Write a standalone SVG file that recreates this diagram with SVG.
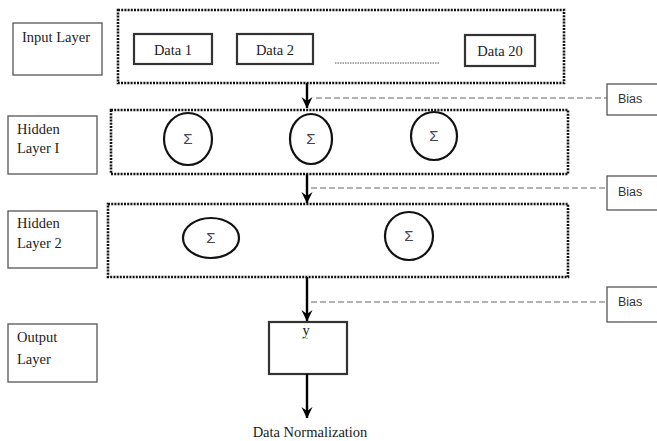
<svg xmlns="http://www.w3.org/2000/svg" width="657" height="441" viewBox="0 0 657 441">
<style>
.lbl{fill:#fff;stroke:#555;stroke-width:1.3}
.dot{fill:none;stroke:#111;stroke-width:2.6;stroke-dasharray:2 1.2}
.data{fill:#fff;stroke:#333;stroke-width:2.2}
.neu{fill:#fff;stroke:#111;stroke-width:2.2}
.t{font-family:"Liberation Serif",serif;font-size:14.5px;fill:#222}
.sig{font-family:"Liberation Sans",sans-serif;font-size:15px;fill:#445;text-anchor:middle}
.bias{font-family:"Liberation Sans",sans-serif;font-size:12.5px;fill:#333}
.dash{stroke:#666;stroke-width:1.2;stroke-dasharray:6 3;fill:none}
.arr{stroke:#000;stroke-width:2.4;fill:none;marker-end:url(#ah)}
</style>
<defs>
<marker id="ah" markerWidth="12" markerHeight="12" refX="11" refY="6" orient="auto" markerUnits="userSpaceOnUse" viewBox="0 0 12 12">
<path d="M0,0.5 L11.5,6 L0,11.5 L4,6 Z" fill="#000"/>
</marker>
</defs>
<rect width="657" height="441" fill="#fff"/>

<g id="input-layer-label"><rect class="lbl" x="13" y="23" width="89" height="52"/><text class="t" x="22" y="42">Input Layer</text></g>
<g id="input-layer"><rect class="dot" x="118" y="10" width="446" height="73"/></g>
<g id="data1"><rect class="data" x="134" y="34" width="78" height="30"/><text class="t" x="173" y="55" text-anchor="middle">Data 1</text></g>
<g id="data2"><rect class="data" x="237" y="34" width="76" height="30"/><text class="t" x="275" y="55" text-anchor="middle">Data 2</text></g>
<g id="ellipsis"><line x1="335" y1="63" x2="440" y2="63" stroke="#555" stroke-width="1" stroke-dasharray="1.5 1"/></g>
<g id="data20"><rect class="data" x="465" y="35" width="70" height="31"/><text class="t" x="500" y="56" text-anchor="middle">Data 20</text></g>

<g id="hidden1-label"><rect class="lbl" x="8" y="116" width="89" height="58"/><text class="t" x="17" y="134">Hidden</text><text class="t" x="17" y="153">Layer I</text></g>
<g id="hidden1"><rect class="dot" x="111" y="110" width="457" height="64"/></g>
<g id="h1n1"><ellipse class="neu" cx="188" cy="139" rx="24" ry="26"/><text class="sig" x="188" y="144">Σ</text></g>
<g id="h1n2"><ellipse class="neu" cx="311" cy="139" rx="21" ry="25"/><text class="sig" x="311" y="144">Σ</text></g>
<g id="h1n3"><ellipse class="neu" cx="434" cy="136" rx="23" ry="24"/><text class="sig" x="434" y="141">Σ</text></g>

<g id="hidden2-label"><rect class="lbl" x="8" y="211" width="89" height="57"/><text class="t" x="17" y="228">Hidden</text><text class="t" x="17" y="248">Layer 2</text></g>
<g id="hidden2"><rect class="dot" x="108" y="204" width="460" height="73"/></g>
<g id="h2n1"><ellipse class="neu" cx="211" cy="238" rx="28" ry="20"/><text class="sig" x="211" y="243">Σ</text></g>
<g id="h2n2"><ellipse class="neu" cx="409" cy="236" rx="24" ry="24"/><text class="sig" x="409" y="241">Σ</text></g>

<g id="output-label"><rect class="lbl" x="8" y="324" width="89" height="58"/><text class="t" x="17" y="342">Output</text><text class="t" x="17" y="364">Layer</text></g>
<g id="output"><rect class="data" x="269" y="322" width="78" height="52"/><text class="t" x="306" y="335" font-size="12" text-anchor="middle">y</text><path d="M302,338 q1,1 2,0 q1,-1 2,0 q1,1 2,0" stroke="#6a4" stroke-width="0.8" fill="none"/></g>

<g id="bias1"><rect class="lbl" x="607" y="84" width="60" height="31"/><text class="bias" x="618" y="103">Bias</text></g>
<g id="bias2"><rect class="lbl" x="607" y="176" width="60" height="34"/><text class="bias" x="618" y="196">Bias</text></g>
<g id="bias3"><rect class="lbl" x="607" y="287" width="60" height="35"/><text class="bias" x="618" y="306">Bias</text></g>

<g id="connectors">
<line class="arr" x1="307" y1="83" x2="307" y2="108"/>
<line class="arr" x1="307" y1="174" x2="307" y2="203"/>
<line class="arr" x1="307" y1="277" x2="307" y2="321"/>
<line class="arr" x1="307" y1="374" x2="307" y2="418"/>
<line class="dash" x1="316" y1="98" x2="607" y2="98"/>
<line class="dash" x1="311" y1="188" x2="607" y2="188"/>
<line class="dash" x1="311" y1="302" x2="607" y2="302"/>
</g>
<text class="t" x="310" y="437" text-anchor="middle" font-size="13.5">Data Normalization</text>
</svg>
